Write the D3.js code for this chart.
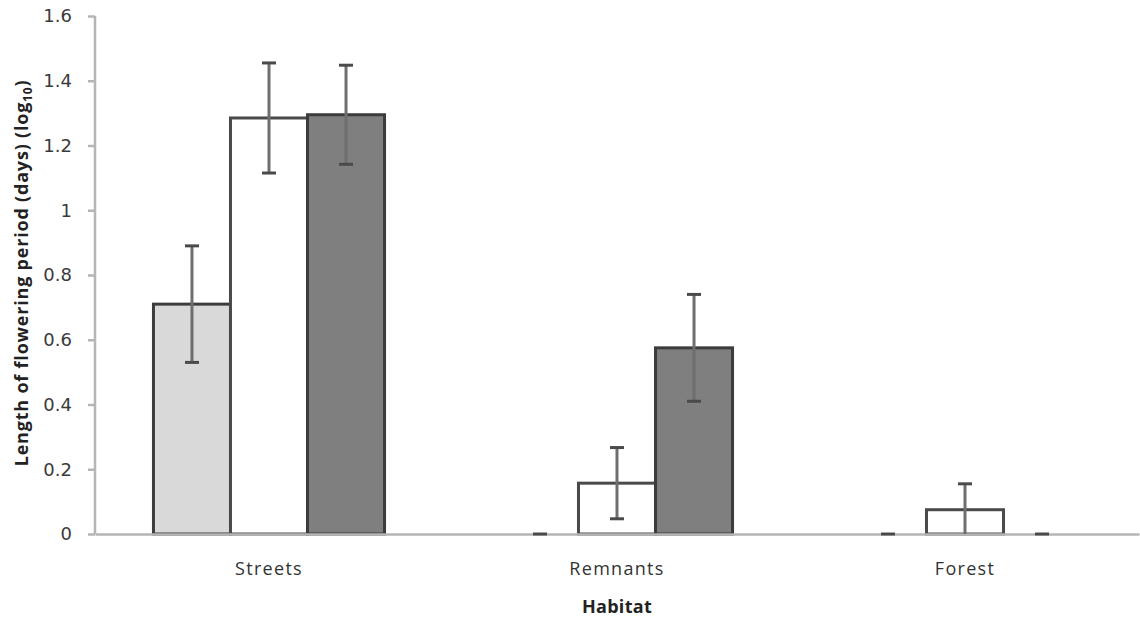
<!DOCTYPE html>
<html>
<head>
<meta charset="utf-8">
<script src="https://cdn.jsdelivr.net/npm/d3@7/dist/d3.min.js"></script>
<style>
  html, body { margin: 0; padding: 0; background: #ffffff; }
  svg { display: block; }
</style>
</head>
<body>
<svg id="chart" width="1140" height="619"></svg>
<script>
// Habitat categories and the three series plotted in each
const habitats = ["Streets", "Remnants", "Forest"];
const seriesKeys = ["s1", "s2", "s3"];
const seriesFill = ["#d9d9d9", "#ffffff", "#7f7f7f"];
const seriesStroke = ["#3c3c3c", "#4a4a4a", "#3c3c3c"];

// Mean log10 flowering-period length per habitat, one array per series
const s1Values = [0.71, 0.0, 0.0];
const s2Values = [1.285, 0.157, 0.075];
const s3Values = [1.295, 0.575, 0.0];

// Error-bar half widths
const s1Errors = [0.18, 0.0, 0.0];
const s2Errors = [0.17, 0.11, 0.08];
const s3Errors = [0.153, 0.165, 0.0];

const yTicks = [0, 0.2, 0.4, 0.6, 0.8, 1, 1.2, 1.4, 1.6];

const values = [s1Values, s2Values, s3Values];
const errors = [s1Errors, s2Errors, s3Errors];

const rows = [];
habitats.forEach((h, i) => {
  seriesKeys.forEach((k, j) => {
    rows.push({ habitat: h, key: k, idx: j, value: values[j][i], err: errors[j][i] });
  });
});

const svg = d3.select("#chart");
const margin = { left: 95, right: 1, top: 16, bottom: 85 };
const W = 1140, H = 619;

const x = d3.scaleBand()
  .domain(habitats)
  .range([margin.left, W - margin.right])
  .paddingInner(0.336)
  .paddingOuter(0.168);

const xInner = d3.scaleBand()
  .domain(seriesKeys)
  .range([0, x.bandwidth()])
  .padding(0);

const y = d3.scaleLinear()
  .domain([0, 1.6])
  .range([H - margin.bottom, margin.top]);

// Bars
svg.append("g")
  .selectAll("rect")
  .data(rows.filter(d => d.value > 0))
  .join("rect")
  .attr("x", d => x(d.habitat) + xInner(d.key))
  .attr("y", d => y(d.value))
  .attr("width", xInner.bandwidth())
  .attr("height", d => y(0) - y(d.value))
  .attr("fill", d => seriesFill[d.idx])
  .attr("stroke", d => seriesStroke[d.idx])
  .attr("stroke-width", 3);

// Y axis
const yAxis = d3.axisLeft(y)
  .tickValues(yTicks)
  .tickFormat(d => d3.format("")(+d.toFixed(1)))
  .tickSize(7)
  .tickPadding(16);

const gy = svg.append("g")
  .attr("transform", `translate(${margin.left},0)`)
  .call(yAxis);
gy.select(".domain").attr("stroke", "#b5b5b5").attr("stroke-width", 2.5)
  .attr("d", `M0,${y(0)}V${y(1.6)}`);
gy.selectAll(".tick line").attr("stroke", "#b5b5b5").attr("stroke-width", 2.5);
gy.selectAll(".tick text")
  .attr("font-family", "DejaVu Sans, Verdana, sans-serif")
  .attr("font-size", 18)
  .attr("fill", "#3a3a3a");

// X axis
const xAxis = d3.axisBottom(x).tickSize(0).tickPadding(28);
const gx = svg.append("g")
  .attr("transform", `translate(0,${y(0)})`)
  .call(xAxis);
gx.select(".domain").attr("stroke", "#b5b5b5").attr("stroke-width", 2.5);
gx.selectAll(".tick text")
  .attr("font-family", "Open Sans, sans-serif")
  .attr("font-size", 18)
  .attr("letter-spacing", 1.3)
  .attr("fill", "#333");

// Error bars
const errG = svg.append("g");
const cx = d => x(d.habitat) + xInner(d.key) + xInner.bandwidth() / 2;
const capW = 7;
errG.selectAll("line.stem")
  .data(rows)
  .join("line")
  .attr("class", "stem")
  .attr("x1", cx).attr("x2", cx)
  .attr("y1", d => y(Math.max(0, d.value - d.err)))
  .attr("y2", d => y(d.value + d.err))
  .attr("stroke", "#6e6e6e")
  .attr("stroke-width", 3);
errG.selectAll("line.capTop")
  .data(rows)
  .join("line")
  .attr("class", "capTop")
  .attr("x1", d => cx(d) - capW).attr("x2", d => cx(d) + capW)
  .attr("y1", d => y(d.value + d.err)).attr("y2", d => y(d.value + d.err))
  .attr("stroke", "#4a4a4a")
  .attr("stroke-width", 3);
errG.selectAll("line.capBot")
  .data(rows.filter(d => d.value - d.err > 0))
  .join("line")
  .attr("class", "capBot")
  .attr("x1", d => cx(d) - capW).attr("x2", d => cx(d) + capW)
  .attr("y1", d => y(d.value - d.err)).attr("y2", d => y(d.value - d.err))
  .attr("stroke", "#4a4a4a")
  .attr("stroke-width", 3);

// Axis titles
svg.append("text")
  .attr("x", (x.range()[0] + x.range()[1]) / 2)
  .attr("y", 613)
  .attr("text-anchor", "middle")
  .attr("font-family", "Open Sans, sans-serif")
  .attr("font-weight", "bold")
  .attr("font-size", 18)
  .attr("letter-spacing", 0.3)
  .attr("fill", "#222")
  .text("Habitat");

const yTitle = svg.append("text")
  .attr("transform", `translate(28,${(y(0) + y(1.6)) / 2 - 2}) rotate(-90)`)
  .attr("text-anchor", "middle")
  .attr("font-family", "Open Sans, sans-serif")
  .attr("font-weight", "bold")
  .attr("font-size", 18)
  .attr("letter-spacing", 0.8)
  .attr("fill", "#222");
yTitle.append("tspan").text("Length of flowering period (days) (log");
yTitle.append("tspan").attr("font-size", 12).attr("dy", 4).text("10");
yTitle.append("tspan").attr("dy", -4).text(")");
</script>
</body>
</html>
